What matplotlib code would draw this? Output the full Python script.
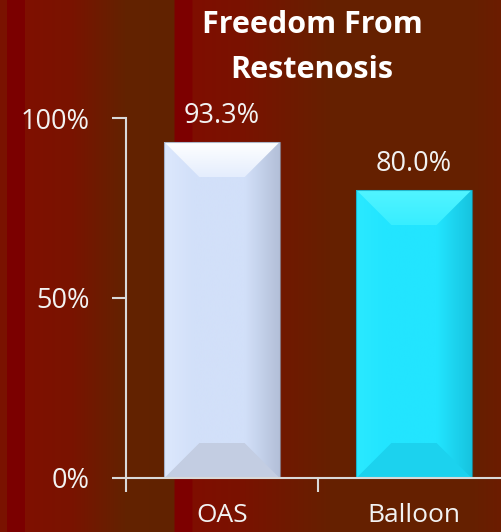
import numpy as np
import matplotlib.pyplot as plt
from matplotlib.colors import to_rgb
from matplotlib.patches import Polygon

categories = ["OAS", "Balloon"]
values = [93.3, 80.0]
labels = ["93.3%", "80.0%"]
y_ticks = [0, 50, 100]
y_tick_labels = ["0%", "50%", "100%"]

# bar shading: left edge, middle, right edge of the front face, then top and bottom bevels
bar_faces = [
    {"left": "#dde8fd", "mid": "#d2e0f9", "right": "#b3bfd8",
     "top_hi": "#ffffff", "top_lo": "#e4edfd", "bottom": "#c3cde2", "edge": "#8e9ab2"},
    {"left": "#2ae9ff", "mid": "#22e5ff", "right": "#17c3df",
     "top_hi": "#52f4ff", "top_lo": "#38eeff", "bottom": "#1cd2ee", "edge": "#129fb8"},
]

W, H = 502, 532
plt.rcParams['font.family'] = ['Open Sans', 'DejaVu Sans']

fig = plt.figure(figsize=(W / 100, H / 100), dpi=100)

# striped red/brown backdrop
bg_stops = [(0, "#7a1200"), (7, "#7a1200"), (7.5, "#7b0000"), (25, "#7b0000"),
            (25.5, "#7f1000"), (70, "#7a1300"), (125, "#632200"), (174, "#612200"),
            (175, "#7d0000"), (192, "#7d0000"), (193, "#7f0e00"), (240, "#7a1200"),
            (330, "#662000"), (470, "#652000"), (502, "#6c1c00")]
px = np.arange(W) + 0.5
sx = [s[0] for s in bg_stops]
rgb = np.array([to_rgb(s[1]) for s in bg_stops])
row = np.stack([np.interp(px, sx, rgb[:, k]) for k in range(3)], axis=-1)
bg = fig.add_axes([0, 0, 1, 1], zorder=-10)
bg.imshow(row[None, :, :], aspect="auto", extent=[0, 1, 0, 1], interpolation="nearest")
bg.axis("off")

ax = fig.add_axes([126 / W, 54 / H, 384 / W, 360 / H])
ax.patch.set_alpha(0)

x = np.arange(len(categories)) + 0.5
bars = ax.bar(x, values, width=0.6, color="none", edgecolor="none", zorder=2)

# bevel depth of about 35 px
dx = 35 / 384 * 2
dy = 35 / 360 * 100

for i, b in enumerate(bars):
    f = bar_faces[i]
    x0, w, h = b.get_x(), b.get_width(), b.get_height()
    x1 = x0 + w
    # front face: horizontal shading
    t = np.linspace(0, 1, 200)
    cols = np.array([to_rgb(f["left"]), to_rgb(f["mid"]), to_rgb(f["mid"]), to_rgb(f["right"])])
    tp = [0, 0.25, 0.7, 1]
    front = np.stack([np.interp(t, tp, cols[:, k]) for k in range(3)], axis=-1)[None, :, :]
    im = ax.imshow(front, extent=[x0, x1, 0, h], aspect="auto", zorder=2, interpolation="bilinear")
    im.set_clip_path(b)
    # top bevel: vertical fade
    top = Polygon([(x0, h), (x1, h), (x1 - dx, h - dy), (x0 + dx, h - dy)], closed=True,
                  facecolor="none", edgecolor="none")
    ax.add_patch(top)
    tv = np.linspace(0, 1, 100)
    tc = np.array([to_rgb(f["top_hi"]), to_rgb(f["top_lo"])])
    topimg = np.stack([np.interp(tv, [0, 1], tc[:, k]) for k in range(3)], axis=-1)[:, None, :]
    im2 = ax.imshow(topimg, extent=[x0, x1, h - dy, h], aspect="auto", zorder=3,
                    interpolation="bilinear")
    im2.set_clip_path(top)
    # bottom bevel
    ax.add_patch(Polygon([(x0, 0), (x1, 0), (x1 - dx, dy), (x0 + dx, dy)], closed=True,
                         facecolor=f["bottom"], edgecolor="none", zorder=3))
    ax.add_patch(Polygon([(x0, 0), (x0, h), (x1, h), (x1, 0)], closed=True, facecolor="none",
                         edgecolor=f["edge"], linewidth=0.8, zorder=4, alpha=0.7))
    ax.text(x0 + w / 2, h + 5.3, labels[i], ha="center", va="baseline",
            color="#f2f2f2", fontsize=19.5)

ax.set_xlim(0, 2)
ax.set_ylim(0, 100)

for s in ["top", "right"]:
    ax.spines[s].set_visible(False)
for s in ["left", "bottom"]:
    ax.spines[s].set_color("#d9d9d9")
    ax.spines[s].set_linewidth(1.5)
    ax.spines[s].set_zorder(5)

ax.set_yticks(y_ticks)
ax.set_yticklabels(y_tick_labels)
ax.set_xticks([0, 1, 2])
ax.set_xticklabels([])
ax.set_xticks(x, minor=True)
ax.set_xticklabels(categories, minor=True)
ax.tick_params(axis="y", colors="#d9d9d9", labelcolor="#f2f2f2", length=10, width=1.5,
               labelsize=19.5, pad=16)
ax.tick_params(axis="x", which="major", colors="#d9d9d9", length=10, width=1.5)
ax.tick_params(axis="x", which="minor", length=0, labelcolor="#f2f2f2", labelsize=19, pad=18)

fig.text(312 / W, 1 - 33 / H, "Freedom From", ha="center", va="baseline",
         color="white", fontsize=22, fontweight="bold")
fig.text(312 / W, 1 - 78 / H, "Restenosis", ha="center", va="baseline",
         color="white", fontsize=22, fontweight="bold")

fig.savefig("out.png", dpi=100)
